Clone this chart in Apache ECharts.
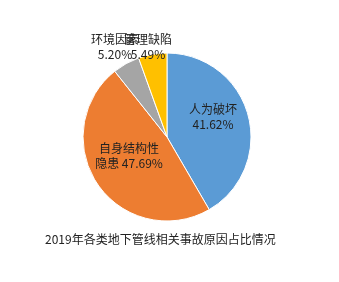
<!DOCTYPE html>
<html><head><meta charset="utf-8">
<script src="https://cdn.jsdelivr.net/npm/echarts@6/dist/echarts.min.js"></script>
<style>html,body{margin:0;padding:0;background:#fff}#c{width:339px;height:282px}</style>
</head><body><div id="c"></div>
<script>
var titleText = '2019年各类地下管线相关事故原因占比情况';
var names = ['人为破坏', '自身结构性\n隐患', '环境因素', '管理缺陷'];
var values = [41.62, 47.69, 5.20, 5.49];
var colors = ['#5B9BD5', '#ED7D31', '#A5A5A5', '#FFC000'];
var labelPos = [[213, 117], [129, 156], [115, 47], [148, 47]];

var chart = echarts.init(document.getElementById('c'));
var data = names.map(function (n, i) {
  return {
    name: n, value: values[i],
    itemStyle: { color: colors[i] },
    label: { formatter: i === 1 ? '自身结构性\n隐患 ' + values[i].toFixed(2) + '%' : n + '\n' + values[i].toFixed(2) + '%' }
  };
});
chart.setOption({
  animation: false,
  title: {
    text: titleText, left: 40, top: 228,
    textStyle: { fontSize: 12, fontWeight: 'normal', color: '#222', fontFamily: 'Noto Sans CJK SC' }
  },
  series: [{
    type: 'pie',
    center: [167, 137], radius: 84,
    startAngle: 90, clockwise: true,
    itemStyle: { borderColor: '#fff', borderWidth: 1 },
    label: {
      show: true, position: 'inside', color: '#222', fontSize: 12, lineHeight: 15,
      fontFamily: 'Noto Sans CJK SC', align: 'center'
    },
    labelLine: { show: false },
    labelLayout: function (p) {
      var pt = labelPos[p.dataIndex];
      return { x: pt[0], y: pt[1], align: 'center', verticalAlign: 'middle' };
    },
    emphasis: { disabled: true },
    data: data
  }]
});
</script></body></html>
